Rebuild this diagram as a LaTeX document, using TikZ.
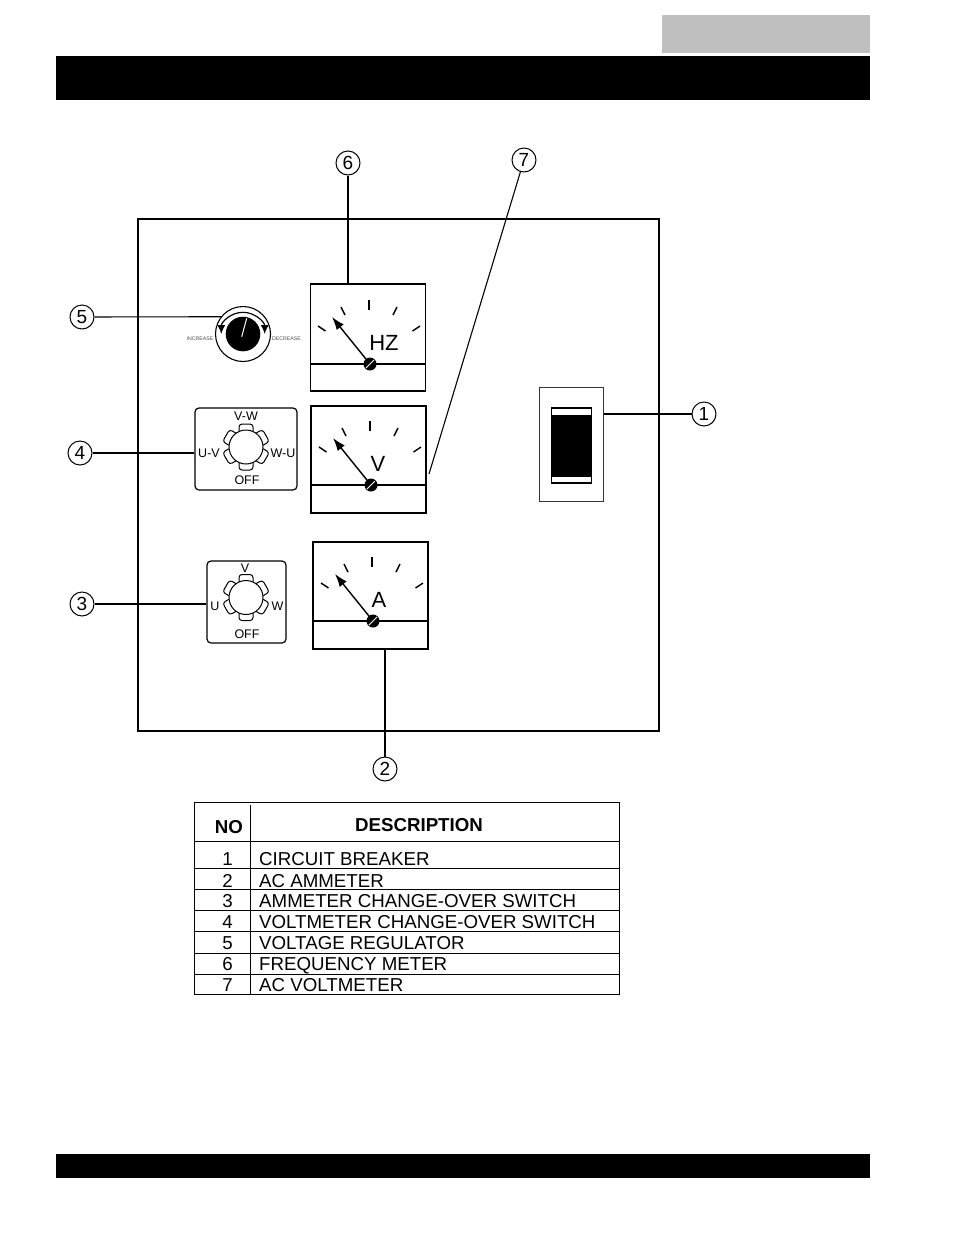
\documentclass[tikz,border=0pt]{standalone}
\usepackage{fontspec}
\setmainfont{Liberation Sans}
\usetikzlibrary{arrows.meta}
\tikzset{
	callout/.style={draw, circle, line width=1pt, inner sep=0pt, minimum size=24pt, font=\fontsize{19}{19}\selectfont},
	meterbox/.style={draw, rectangle, line width=1.4pt, inner sep=0pt, minimum width=115pt, minimum height=107pt},
	switchbox/.style={draw, rectangle, rounded corners=4pt, line width=1.2pt, inner sep=0pt},
	lobe/.style={draw, fill=white, rectangle, rounded corners=3pt, line width=1pt, inner sep=0pt, minimum width=14pt, minimum height=10pt},
	hub/.style={draw, fill=white, circle, line width=1pt, inner sep=0pt, minimum size=34pt},
	dialtext/.style={inner sep=0pt, font=\fontsize{22}{22}\selectfont},
	switchtext/.style={inner sep=0pt, font=\fontsize{12.5}{12.5}\selectfont},
	tinytext/.style={inner sep=0pt, text=black!70, font=\fontsize{5.2}{5.2}\selectfont},
	rowtext/.style={anchor=base west, inner sep=0pt, font=\fontsize{18.7}{18.7}\selectfont},
	rownum/.style={anchor=base, inner sep=0pt, font=\fontsize{18.7}{18.7}\selectfont},
	headtext/.style={inner sep=0pt, font=\fontsize{18.7}{18.7}\selectfont\bfseries},
	dial/.pic={
		\draw[line width=1.4pt] (-52,-38) -- (-44.5,-33);
		\draw[line width=1.4pt] (-29,-57) -- (-25,-49);
		\draw[line width=1.4pt] (-1,-64) -- (-1,-54);
		\draw[line width=1.4pt] (27,-57) -- (23,-49);
		\draw[line width=1.4pt] (50,-38) -- (42.5,-33);
		\draw[line width=1.4pt, -{Latex[length=13pt,width=9pt]}] (0,0) -- (-38,-47);
		\fill (0,0) circle (6.5);
		\draw[white, line width=1pt] (-4,4) -- (4,-4);
	},
	selector/.pic={
		\node [lobe] at (0,-18) {};
		\node [lobe] at (0,18) {};
		\node [lobe, rotate=60] at (-15.6,-9) {};
		\node [lobe, rotate=-60] at (15.6,-9) {};
		\node [lobe, rotate=-60] at (-15.6,9) {};
		\node [lobe, rotate=60] at (15.6,9) {};
		\node [hub] at (0,0) {};
	},
}

\begin{document}
\begin{tikzpicture}[x=1pt, y=-1pt]
	\useasboundingbox (0,0) rectangle (954,1235);
	
	% page furniture
	\node (tab) [fill=black!25, inner sep=0pt, minimum width=208pt, minimum height=38pt] at (766,34) {};
	\node (topbar) [fill=black, inner sep=0pt, minimum width=814pt, minimum height=44pt] at (463,78) {};
	\node (botbar) [fill=black, inner sep=0pt, minimum width=814pt, minimum height=24pt] at (463,1166) {};
	
	\node (panel) [draw, line width=1.4pt, inner sep=0pt, minimum width=521pt, minimum height=512pt] at (398.5,475) {};
	
	% meters
	\node (hz) [meterbox] at (368,337.5) {};
	\node (vm) [meterbox] at (368.5,459.5) {};
	\node (am) [meterbox] at (370.5,595.5) {};
	\draw[line width=1.4pt] (hz.west |- 0,364) -- (hz.east |- 0,364);
	\draw[line width=1.4pt] (vm.west |- 0,485) -- (vm.east |- 0,485);
	\draw[line width=1.4pt] (am.west |- 0,621) -- (am.east |- 0,621);
	\pic at (370,364) {dial};
	\pic at (371,485) {dial};
	\pic at (373,621) {dial};
	\node (hzlabel) [dialtext] at (384,343) {HZ};
	\node (vmlabel) [dialtext] at (378,464) {V};
	\node (amlabel) [dialtext] at (379,600) {A};
	
	% voltage regulator
	\node (knob) [draw, circle, line width=1.1pt, inner sep=0pt, minimum size=55pt] at (243,334) {};
	\fill (243,334) circle (17.3);
	\draw[line width=1.2pt, {Latex[length=9pt,width=8pt]}-{Latex[length=9pt,width=8pt]}] (221.3,334) arc[start angle=180, end angle=360, radius=21.7];
	\draw[white, line width=1pt] (241.7,336.7) -- (246.7,318.3);
	\node (incr) [tinytext] at (200,339) {INCREASE};
	\node (decr) [tinytext] at (286.5,339) {DECREASE};
	
	% change-over switches
	\node (sw4) [switchbox, minimum width=102pt, minimum height=82pt] at (246,449) {};
	\pic at (246,447) {selector};
	\node (sw4t) [switchtext] at (246,416) {V-W};
	\node (sw4l) [switchtext] at (209,453) {U-V};
	\node (sw4r) [switchtext] at (283,453) {W-U};
	\node (sw4b) [switchtext] at (247,480.5) {OFF};
	
	\node (sw3) [switchbox, minimum width=79pt, minimum height=82pt] at (246.5,602) {};
	\pic at (246,597.5) {selector};
	\node (sw3t) [switchtext] at (245,568) {V};
	\node (sw3l) [switchtext] at (215,606) {U};
	\node (sw3r) [switchtext] at (277.5,606) {W};
	\node (sw3b) [switchtext] at (247,634) {OFF};
	
	% circuit breaker
	\node (breaker) [draw=black!80, line width=1.5pt, inner sep=0pt, minimum width=64pt, minimum height=114pt] at (571.5,444.5) {};
	\node (lever) [draw, line width=1.2pt, inner sep=0pt, minimum width=40pt, minimum height=75pt] at (571.5,445.5) {};
	\fill (551.5,415) rectangle (591.5,477);
	
	% callouts
	\node (c1) [callout] at (704,414) {1};
	\node (c2) [callout] at (385,769) {2};
	\node (c3) [callout] at (82,604) {3};
	\node (c4) [callout] at (80,453) {4};
	\node (c5) [callout] at (82,317) {5};
	\node (c6) [callout] at (348,163) {6};
	\node (c7) [callout] at (524,160) {7};
	\coordinate (c7end) at (429,474);
	
	\begin{scope}[line width=1.1pt, black]
		\draw (c1) -- (c1 -| breaker.east);
		\draw (c2) -- (c2 |- am.south);
		\draw (c3) -- (c3 -| sw3.west);
		\draw (c4) -- (c4 -| sw4.west);
		\draw (c5) -- (knob.142);
		\draw (c6) -- (c6 |- hz.north);
		\draw (c7) -- (c7end);
	\end{scope}
	
	% table
	\node (tbl) [draw, line width=1pt, inner sep=0pt, minimum width=425pt, minimum height=192.5pt] at (406.8,898.7) {};
	\begin{scope}[line width=1pt, black]
		\draw (250,805) -- (250,995);
		\draw (tbl.west |- 0,841.5) -- (tbl.east |- 0,841.5);
		\draw (tbl.west |- 0,868) -- (tbl.east |- 0,868);
		\draw (tbl.west |- 0,889) -- (tbl.east |- 0,889);
		\draw (tbl.west |- 0,910) -- (tbl.east |- 0,910);
		\draw (tbl.west |- 0,931) -- (tbl.east |- 0,931);
		\draw (tbl.west |- 0,953) -- (tbl.east |- 0,953);
		\draw (tbl.west |- 0,974) -- (tbl.east |- 0,974);
	\end{scope}
	\node (headno) [headtext] at (229,827) {NO};
	\node (headdesc) [headtext] at (419,825.5) {DESCRIPTION};
	
	\node (n1) [rownum] at (227.5,865.5) {1};
	\node (d1) [rowtext] at (259,865.5) {CIRCUIT BREAKER};
	\node (n2) [rownum] at (227.5,887) {2};
	\node (d2) [rowtext] at (259,887) {AC AMMETER};
	\node (n3) [rownum] at (227.5,907) {3};
	\node (d3) [rowtext] at (259,907) {AMMETER CHANGE-OVER SWITCH};
	\node (n4) [rownum] at (227.5,928) {4};
	\node (d4) [rowtext] at (259,928) {VOLTMETER CHANGE-OVER SWITCH};
	\node (n5) [rownum] at (227.5,949.5) {5};
	\node (d5) [rowtext] at (259,949.5) {VOLTAGE REGULATOR};
	\node (n6) [rownum] at (227.5,970.5) {6};
	\node (d6) [rowtext] at (259,970.5) {FREQUENCY METER};
	\node (n7) [rownum] at (227.5,991.5) {7};
	\node (d7) [rowtext] at (259,991.5) {AC VOLTMETER};
	
\end{tikzpicture}
\end{document}
